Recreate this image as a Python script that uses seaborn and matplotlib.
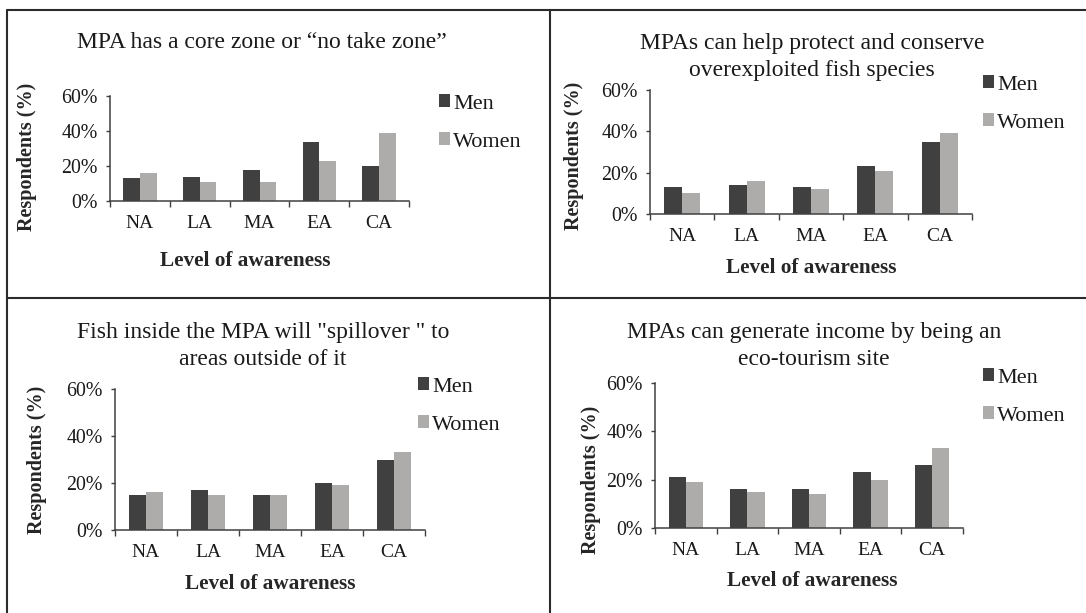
import matplotlib
matplotlib.use("Agg")
import matplotlib.pyplot as plt
from matplotlib.lines import Line2D
from matplotlib.ticker import FixedLocator, FuncFormatter
import pandas as pd
import seaborn as sns

# Awareness levels and share of respondents (%) by gender for each statement
levels = ["NA", "LA", "MA", "EA", "CA"]
groups = ["Men", "Women"]

core_zone_men = [13, 14, 18, 34, 20]
core_zone_women = [16, 11, 11, 23, 39]

protect_men = [13, 14, 13, 23, 35]
protect_women = [10, 16, 12, 21, 39]

spillover_men = [15, 17, 15, 20, 30]
spillover_women = [16, 15, 15, 19, 33]

ecotourism_men = [21, 16, 16, 23, 26]
ecotourism_women = [19, 15, 14, 20, 33]

titles = [
    "MPA has a core zone or \u201cno take zone\u201d",
    "MPAs can help protect and conserve\noverexploited fish species",
    "Fish inside the MPA will \"spillover \" to\nareas outside of it",
    "MPAs can generate income by being an\neco-tourism site",
]
series = [
    (core_zone_men, core_zone_women),
    (protect_men, protect_women),
    (spillover_men, spillover_women),
    (ecotourism_men, ecotourism_women),
]
y_ticks = [0, 20, 40, 60]

sns.set_theme(style="white")
plt.rcParams["font.family"] = ["Liberation Serif", "DejaVu Serif"]
plt.rcParams["text.color"] = "#1a1a1a"

W, H = 1086, 613
fig = plt.figure(figsize=(W / 100, H / 100), dpi=100)
fig.patch.set_facecolor("white")


def fx(px):
    return px / W


def fy(py):
    return 1 - py / H


# panel layout in pixels: axes box, title centre, y-label, x-label, legend anchor
panels = [
    dict(ax=(110, 96, 409, 201), title=(262, 43), ylab=(27, 157), xlab=(245, 261), leg=(439, 123)),
    dict(ax=(650, 90, 972, 214), title=(812, 57), ylab=(574, 156), xlab=(811, 268), leg=(983, 104)),
    dict(ax=(115, 389, 425, 530), title=(263, 346), ylab=(37, 460), xlab=(270, 584), leg=(418, 406)),
    dict(ax=(655, 383, 963, 528), title=(814, 346), ylab=(591, 480), xlab=(812, 581), leg=(983, 397)),
]

palette = {"Men": "#404040", "Women": "#aeabab"}

for spec, title, (men, women) in zip(panels, titles, series):
    x0, y0, x1, y1 = spec["ax"]
    ax = fig.add_axes([fx(x0), fy(y1), fx(x1 - x0), (y1 - y0) / H])

    df = pd.DataFrame({
        "level": levels * 2,
        "group": ["Men"] * len(levels) + ["Women"] * len(levels),
        "share": list(men) + list(women),
    })
    sns.barplot(data=df, x="level", y="share", hue="group", order=levels,
                hue_order=groups, palette=palette, width=0.56, saturation=1,
                linewidth=0, ax=ax)

    ax.set_xlim(-0.5, len(levels) - 0.5)
    ax.set_ylim(0, 60)
    ax.yaxis.set_major_locator(FixedLocator(y_ticks))
    ax.yaxis.set_major_formatter(FuncFormatter(lambda v, p: f"{v:.0f}%"))
    ax.xaxis.set_minor_locator(FixedLocator([i - 0.5 for i in range(len(levels) + 1)]))

    ax.tick_params(axis="x", which="major", length=0, pad=10, labelsize=14, colors="#1a1a1a")
    ax.tick_params(axis="x", which="minor", bottom=True, length=4, width=1, color="#404040")
    ax.tick_params(axis="y", which="major", left=True, length=3, width=1, color="#404040",
                   pad=6, labelsize=14.3, labelcolor="#1a1a1a")

    for side in ("top", "right"):
        ax.spines[side].set_visible(False)
    for side in ("left", "bottom"):
        ax.spines[side].set_color("#404040")
        ax.spines[side].set_linewidth(1.1)
    ax.grid(False)

    ax.set_xlabel("Level of awareness", fontsize=15.3, fontweight="bold", va="center")
    ax.xaxis.set_label_coords(fx(spec["xlab"][0]), fy(spec["xlab"][1]), transform=fig.transFigure)
    ax.set_ylabel("Respondents (%)", fontsize=14.5, fontweight="bold", va="center")
    ax.yaxis.set_label_coords(fx(spec["ylab"][0]), fy(spec["ylab"][1]), transform=fig.transFigure)

    fig.text(fx(spec["title"][0]), fy(spec["title"][1]), title, ha="center", va="center",
             fontsize=17, linespacing=1.32)

    old = ax.get_legend()
    handles = old.legend_handles
    labels = [t.get_text() for t in old.get_texts()]
    old.remove()
    ax.legend(handles, labels, loc="center left",
              bbox_to_anchor=(fx(spec["leg"][0]), fy(spec["leg"][1])),
              bbox_transform=fig.transFigure, frameon=False, fontsize=16,
              handlelength=0.5, handleheight=0.5, handletextpad=0.15,
              labelspacing=0.85, borderpad=0, borderaxespad=0)

# table-style frame dividing the four panels
frame_kw = dict(color="#2b2b2b", linewidth=1.5, transform=fig.transFigure)
fig.add_artist(Line2D([fx(7), 1], [fy(10), fy(10)], **frame_kw))
fig.add_artist(Line2D([fx(7), fx(7)], [fy(10), 0], **frame_kw))
fig.add_artist(Line2D([fx(549.5), fx(549.5)], [fy(10), 0], **frame_kw))
fig.add_artist(Line2D([fx(7), 1], [fy(298), fy(298)], **frame_kw))

fig.savefig("out.png", dpi=100, facecolor="white")
